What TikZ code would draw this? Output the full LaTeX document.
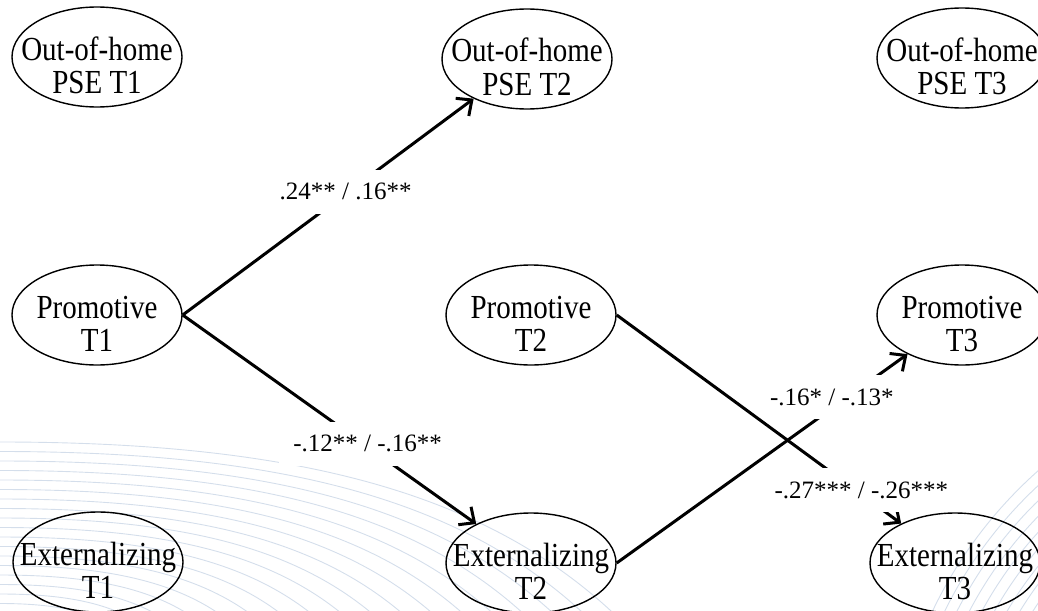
\documentclass[tikz,border=0pt]{standalone}
\usepackage{fontspec}
\usepackage{graphicx}
\setmainfont{Liberation Serif}
\usetikzlibrary{arrows.meta,shapes.geometric}

\definecolor{wavecol}{RGB}{212,222,235}

% two centred lines of text that do not enlarge the ellipse
\newcommand\twolines[2]{\smash{%
  \raisebox{-3pt}{\makebox[0pt]{\scalebox{1}[1.16]{#1}}}%
  \raisebox{-36pt}{\makebox[0pt]{\scalebox{1}[1.16]{#2}}}}}

\begin{document}
\begin{tikzpicture}[x=1pt,y=-1pt,
  latent/.style={draw, ellipse, line width=1.4pt, minimum width=170pt,
    minimum height=100pt, inner sep=0pt, font=\fontsize{29}{35}\selectfont},
  effect/.style={line width=3pt, -{Straight Barb[length=12pt,width=22pt]}},
  coef/.style={fill=white, inner xsep=14pt, inner ysep=13pt,
    text height=17pt, text depth=1pt, font=\fontsize{25}{30}\selectfont},
  bgarc/.style={draw=wavecol, line width=0.9pt}]

\useasboundingbox (0,0) rectangle (1038,610);

% faint wave pattern in the background
\begin{scope}
  \clip (0,0) rectangle (1038,610);
  \foreach \k in {0,...,17} {
    \pgfmathsetmacro\yk{442+9.5*\k}
    \pgfmathsetmacro\xe{640-30*\k}
    \draw[bgarc] (0,\yk) .. controls ({0.5*\xe},\yk) and ({0.8*\xe},{\yk+0.3*(640-\yk)}) .. (\xe,640);
  }
  \foreach \r in {330,341,...,440}
    \draw[bgarc] (1330,800) circle[radius=\r pt];
\end{scope}

% latent variables
\node[latent] (o1) at (97,57)   {\twolines{Out-of-home}{PSE T1}};
\node[latent] (o2) at (527,59)  {\twolines{Out-of-home}{PSE T2}};
\node[latent] (o3) at (962,58)  {\twolines{Out-of-home}{PSE T3}};
\node[latent] (p1) at (97,315)  {\twolines{Promotive}{T1}};
\node[latent] (p2) at (531,315) {\twolines{Promotive}{T2}};
\node[latent] (p3) at (962,315) {\twolines{Promotive}{T3}};
\node[latent] (e1) at (98,562)  {\twolines{Externalizing}{T1}};
\node[latent] (e2) at (531,563) {\twolines{Externalizing}{T2}};
\node[latent] (e3) at (955,563) {\twolines{Externalizing}{T3}};

% cross-lagged paths
\draw[effect] (p1.east) -- node[coef,pos=0.56,yshift=2pt]{.24** / .16**} (o2);
\draw[effect] (p1.east) -- node[coef,pos=0.63,yshift=3pt]{-.12** / -.16**} (e2);
\draw[effect] (e2.east) -- node[coef,pos=0.74,yshift=11pt]{-.16* / -.13*} (p3);
\draw[effect] (p2.east) -- node[coef,pos=0.86,yshift=4pt]{-.27*** / -.26***} (e3);

\end{tikzpicture}
\end{document}
